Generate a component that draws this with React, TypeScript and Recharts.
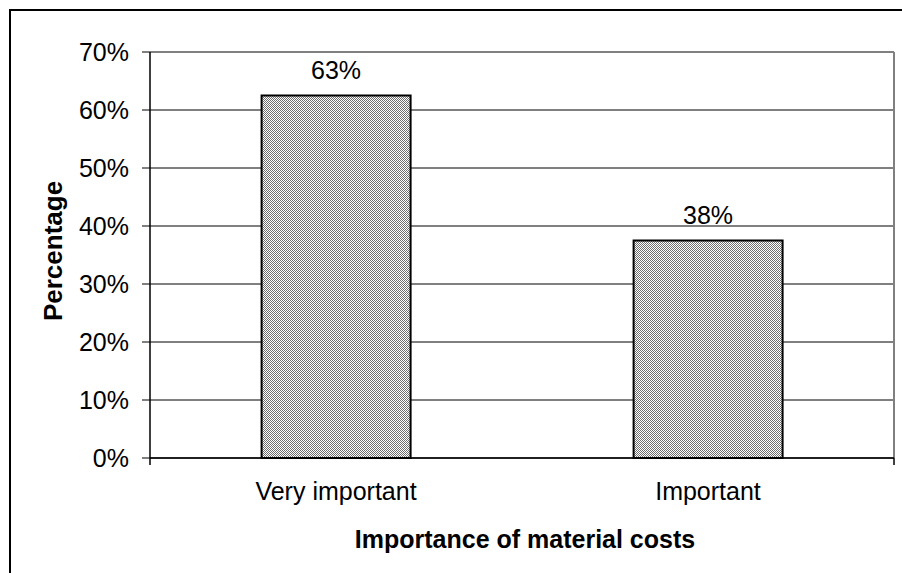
import React from "react";
import {
  BarChart,
  Bar,
  XAxis,
  YAxis,
  CartesianGrid,
  LabelList,
} from "recharts";

const categories = ["Very important", "Important"];
const percentages = [62.5, 37.5];
const valueLabels = ["63%", "38%"];
const yTicks = [0, 10, 20, 30, 40, 50, 60, 70];
const boundaryTicks = [0, 1, 2];

const FONT = "'Liberation Sans', Arial, sans-serif";

const data = categories.map((c, i) => ({
  category: c,
  value: percentages[i],
  label: valueLabels[i],
}));

const YTitle = ({ viewBox }: any) => {
  const cx = viewBox.x + 53;
  const cy = viewBox.y + viewBox.height / 2 - 4;
  return (
    <text
      x={cx}
      y={cy}
      transform={`rotate(-90, ${cx}, ${cy})`}
      textAnchor="middle"
      dominantBaseline="central"
      style={{ fontFamily: FONT, fontSize: 26, fontWeight: 700, fill: "#000" }}
    >
      Percentage
    </text>
  );
};

const XTitle = ({ viewBox }: any) => {
  const cx = viewBox.x + viewBox.width / 2;
  return (
    <text
      x={cx + 3}
      y={viewBox.y + 90}
      textAnchor="middle"
      style={{ fontFamily: FONT, fontSize: 25, fontWeight: 700, fill: "#000" }}
    >
      Importance of material costs
    </text>
  );
};

export default function App() {
  return (
    <div
      style={{
        position: "fixed",
        left: 0,
        top: 0,
        width: 902,
        height: 573,
        background: "#fff",
        overflow: "hidden",
      }}
    >
      <div
        style={{
          position: "absolute",
          left: 9,
          top: 9,
          width: 1000,
          height: 1000,
          border: "2px solid #000",
        }}
      />
      <div style={{ position: "absolute", left: 0, top: 0 }}>
        <BarChart
          width={902}
          height={573}
          data={data}
          margin={{ top: 52, right: 8, left: 0, bottom: 0 }}
          barCategoryGap="30%"
          style={{ fontFamily: FONT }}
        >
          <defs>
            <pattern id="checker" width="2" height="2" patternUnits="userSpaceOnUse">
              <rect width="2" height="2" fill="#ffffff" />
              <rect x="0" y="0" width="1" height="1" fill="#6e6e6e" />
              <rect x="1" y="1" width="1" height="1" fill="#6e6e6e" />
            </pattern>
          </defs>
          <CartesianGrid vertical={false} stroke="#000" strokeWidth={1} />
          {/* plot area border (top and right) */}
          <CartesianGrid
            stroke="#808080"
            strokeWidth={2}
            horizontalCoordinatesGenerator={({ offset }: any) => [offset.top]}
            verticalCoordinatesGenerator={({ offset }: any) => [offset.left + offset.width]}
          />
          <XAxis
            dataKey="category"
            height={1}
            tickLine={false}
            tickSize={9}
            tickMargin={15}
            axisLine={{ stroke: "#000", strokeWidth: 1.5 }}
            tick={{ fill: "#000", fontSize: 25, fontFamily: FONT }}
            interval={0}
            label={<XTitle />}
          />
          {/* tick marks on category boundaries */}
          <XAxis
            xAxisId="b"
            type="number"
            domain={[0, 2]}
            allowDataOverflow
            ticks={boundaryTicks}
            interval={0}
            tick={() => <g />}
            tickSize={7}
            tickLine={{ stroke: "#000", strokeWidth: 1.5, transform: "translate(0,-1)" }}
            axisLine={false}
            height={114}
          />
          <YAxis
            width={150}
            domain={[0, 70]}
            ticks={yTicks}
            interval={0}
            tickFormatter={(v) => `${v}%`}
            tickSize={8}
            tickMargin={13}
            tickLine={{ stroke: "#000" }}
            axisLine={{ stroke: "#000", strokeWidth: 1.5 }}
            tick={{ fill: "#000", fontSize: 25, fontFamily: FONT }}
            label={<YTitle />}
          />
          <Bar
            dataKey="value"
            fill="url(#checker)"
            stroke="#000"
            strokeWidth={2}
            isAnimationActive={false}
          >
            <LabelList
              dataKey="label"
              position="top"
              offset={17}
              style={{ fill: "#000", fontSize: 25, fontFamily: FONT }}
            />
          </Bar>
        </BarChart>
      </div>
    </div>
  );
}
